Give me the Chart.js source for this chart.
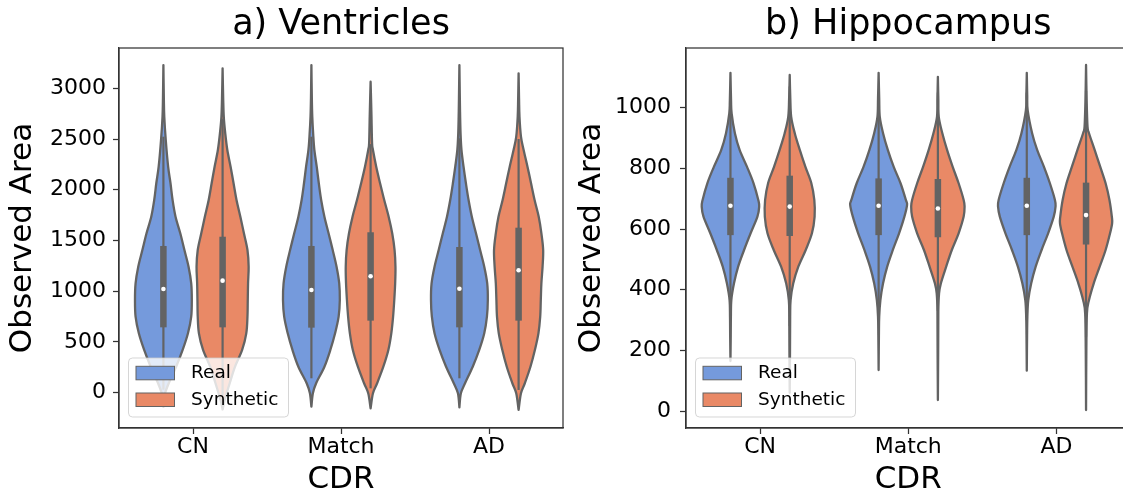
<!DOCTYPE html>
<html><head><meta charset="utf-8">
<script src="https://cdn.jsdelivr.net/npm/chart.js@4.4.0/dist/chart.umd.min.js"></script>
<style>
html,body{margin:0;padding:0;background:#fff;overflow:hidden;width:1123px;height:493px;}
#wrap{position:relative;width:1123px;height:493px;overflow:hidden;background:#fff;}
.box{position:absolute;top:0;height:493px;}
#b1{left:0;width:575px;}
#b2{left:575px;width:565px;}
</style></head><body>
<div id="wrap"><div class="box" id="b1"><canvas id="c1" width="575" height="493"></canvas></div><div class="box" id="b2"><canvas id="c2" width="565" height="493"></canvas></div></div>
<script>
// ---------------- data ----------------
const categories = ['CN', 'Match', 'AD'];
const series = ['Real', 'Synthetic'];
const seriesColors = ['#759adc', '#e98966'];

// a) Ventricles
const ventTicks = [0, 500, 1000, 1500, 2000, 2500, 3000];
const ventMedianReal = [1022, 1012, 1025];
const ventMedianSynth = [1104, 1147, 1206];
const ventQ1Real = [644, 641, 644];
const ventQ3Real = [1446, 1446, 1436];
const ventQ1Synth = [644, 710, 710];
const ventQ3Synth = [1537, 1581, 1626];
const ventWhiskLoReal = [30, 142, 142];
const ventWhiskHiReal = [2523, 2523, 2507];
const ventWhiskLoSynth = [-30, 43, 27];
const ventWhiskHiSynth = [2700, 2450, 2500];
// density outlines: [value, relative half-width %]
const ventShapeRealCN = [[-140,0],[-40,3],[0,6],[93,18],[256,43],[421,65],[585,83],[749,94],[914,96],[1078,94],[1242,85],[1406,71],[1571,57],[1734,41],[1899,31],[2064,24],[2227,16],[2490,8],[2720,3],[2900,1.5],[3229,0]];
const ventShapeSynthCN = [[-165,0],[-72,7],[93,24],[256,42],[421,66],[585,80],[749,84],[914,85],[1078,86],[1242,88],[1406,84],[1571,72],[1734,60],[1899,47],[2064,37],[2227,27],[2392,16],[2556,9],[2720,4],[2900,2],[3197,0]];
const ventShapeRealMatch = [[-138,0],[-6,5],[93,16],[256,44],[421,64],[585,80],[749,92],[914,96],[1078,94],[1242,85],[1406,72],[1571,58],[1734,44],[1899,33],[2064,25],[2227,18],[2392,10],[2550,6],[2720,3],[2900,1.5],[3229,0]];
const ventShapeSynthMatch = [[-154,0],[-6,8],[93,22],[256,43],[421,60],[585,70],[749,76],[914,80],[1078,83],[1242,84],[1406,81],[1571,73],[1734,61],[1899,46],[2064,32],[2227,19],[2392,8],[2458,5],[2720,3],[2900,1.5],[3065,0]];
const ventShapeRealAD = [[-144,0],[-6,5],[93,19],[256,45],[421,67],[585,84],[749,93],[914,96],[1078,94],[1242,84],[1406,70],[1571,56],[1734,42],[1899,31],[2064,22],[2227,14],[2392,7],[2550,4],[2720,2.5],[2900,1.5],[3229,0]];
const ventShapeSynthAD = [[-170,0],[-6,8],[93,21],[256,40],[421,55],[585,67],[749,73],[914,75],[1078,77],[1242,81],[1406,83],[1571,77],[1734,68],[1899,54],[2064,42],[2227,30],[2392,17],[2524,8],[2720,3],[2900,1.5],[3147,0]];

// b) Hippocampus
const hippTicks = [0, 200, 400, 600, 800, 1000];
const hippMedianReal = [677, 677, 677];
const hippMedianSynth = [674, 668, 646];
const hippQ1Real = [580, 580, 580];
const hippQ3Real = [769, 767, 769];
const hippQ1Synth = [577, 573, 549];
const hippQ3Synth = [776, 765, 753];
const hippWhiskLoReal = [300, 300, 300];
const hippWhiskHiReal = [1050, 1050, 1050];
const hippWhiskLoSynth = [280, 330, 245];
const hippWhiskHiSynth = [1070, 1050, 1055];
const hippShapeRealCN = [[165,0],[250,1],[311,1.5],[366,3],[421,12],[476,26],[531,46],[586,68],[641,91],[674,97],[696,94],[751,78],[805,56],[861,31],[916,15],[981,4],[1025,2],[1115,0]];
const hippShapeSynthCN = [[60,0],[200,1],[311,1.5],[366,3],[421,12],[476,29],[531,54],[586,75],[641,84],[696,83],[751,73],[805,53],[861,34],[916,17],[970,5],[1030,2],[1108,0]];
const hippShapeRealMatch = [[135,0],[250,1],[311,2],[366,6],[421,15],[476,29],[531,48],[586,69],[641,87],[680,96],[696,92],[751,74],[805,51],[861,31],[916,15],[970,4],[1030,2],[1115,0]];
const hippShapeSynthMatch = [[36,0],[200,1],[330,1.5],[388,4],[421,10],[476,28],[531,47],[586,70],[641,87],[674,90],[696,87],[751,70],[805,50],[861,31],[916,15],[970,3],[1030,1.5],[1102,0]];
const hippShapeRealAD = [[133,0],[250,1],[311,2],[366,5],[421,15],[476,30],[531,50],[586,72],[641,91],[674,97],[696,95],[751,78],[805,58],[861,35],[916,18],[992,3],[1040,1.5],[1115,0]];
const hippShapeSynthAD = [[3,0],[200,1],[322,3],[366,10],[421,26],[476,46],[531,66],[586,81],[619,88],[641,87],[696,79],[751,66],[805,48],[861,29],[916,10],[938,5],[1025,2],[1141,0]];

// ---------------- drawing ----------------
const FONT = '"DejaVu Sans", "Liberation Sans", sans-serif';
const GRAY = '#636363';
const SPINE = '#333333';
const DODGE = 0.2;      // hue offset in category units
const HALF_MAX = 0.2;   // max half-width in category units

function curveThrough(ctx, pts, first) {
  if (first) ctx.moveTo(pts[0][0], pts[0][1]); else ctx.lineTo(pts[0][0], pts[0][1]);
  for (let i = 0; i < pts.length - 1; i++) {
    const p0 = pts[Math.max(i - 1, 0)], p1 = pts[i], p2 = pts[i + 1], p3 = pts[Math.min(i + 2, pts.length - 1)];
    ctx.bezierCurveTo(p1[0] + (p2[0] - p0[0]) / 6, p1[1] + (p2[1] - p0[1]) / 6,
                      p2[0] - (p3[0] - p1[0]) / 6, p2[1] - (p3[1] - p1[1]) / 6, p2[0], p2[1]);
  }
}

function makeViolinPlugin(panel) {
  return {
    id: 'violins',
    beforeDatasetsDraw(chart) {
      const {ctx, scales: {x, y}} = chart;
      ctx.save();
      categories.forEach((cat, ci) => {
        series.forEach((s, si) => {
          const center = ci + (si === 0 ? -DODGE : DODGE);
          const shape = panel.shapes[si][ci];
          const right = shape.map(([v, w]) => [x.getPixelForValue(center + HALF_MAX * w / 100), y.getPixelForValue(v)]);
          const left = shape.slice().reverse().map(([v, w]) => [x.getPixelForValue(center - HALF_MAX * w / 100), y.getPixelForValue(v)]);
          ctx.beginPath();
          curveThrough(ctx, right, true);
          curveThrough(ctx, left, false);
          ctx.closePath();
          ctx.fillStyle = seriesColors[si];
          ctx.fill();
          ctx.lineWidth = 2.3;
          ctx.strokeStyle = GRAY;
          ctx.lineJoin = 'round';
          ctx.stroke();
          // inner box
          const cx = x.getPixelForValue(center);
          ctx.lineCap = 'butt';
          ctx.beginPath();
          ctx.moveTo(cx, y.getPixelForValue(panel.whiskLo[si][ci]));
          ctx.lineTo(cx, y.getPixelForValue(panel.whiskHi[si][ci]));
          ctx.lineWidth = 2.2;
          ctx.stroke();
          ctx.beginPath();
          ctx.moveTo(cx, y.getPixelForValue(panel.q1[si][ci]));
          ctx.lineTo(cx, y.getPixelForValue(panel.q3[si][ci]));
          ctx.lineWidth = 6.5;
          ctx.stroke();
        });
      });
      ctx.restore();
    },
    afterDraw(chart) {
      const {ctx, chartArea: a} = chart;
      ctx.save();
      ctx.strokeStyle = SPINE;
      ctx.lineWidth = 1.25;
      ctx.strokeRect(a.left, a.top, a.right - a.left, a.bottom - a.top);
      // legend
      const bw = 160, bh = 59;
      const bx = a.left + 9.5, by = a.bottom - 11 - bh;
      ctx.beginPath();
      ctx.roundRect(bx, by, bw, bh, 4);
      ctx.fillStyle = 'rgba(255,255,255,0.8)';
      ctx.fill();
      ctx.strokeStyle = 'rgba(204,204,204,0.8)';
      ctx.lineWidth = 1;
      ctx.stroke();
      series.forEach((s, i) => {
        const py = by + 8.3 + i * 26.7;
        ctx.fillStyle = seriesColors[i];
        ctx.fillRect(bx + 7.5, py, 38.5, 13.5);
        ctx.strokeStyle = GRAY;
        ctx.lineWidth = 1;
        ctx.strokeRect(bx + 7.5, py, 38.5, 13.5);
        ctx.fillStyle = '#000';
        ctx.font = '18.5px ' + FONT;
        ctx.textBaseline = 'middle';
        ctx.textAlign = 'left';
        ctx.fillText(s, bx + 7.5 + 38.5 + 16.5, py + 7);
      });
      ctx.restore();
    }
  };
}

function makeChart(id, panel) {
  const medians = [panel.median[0], panel.median[1]];
  return new Chart(document.getElementById(id), {
    type: 'scatter',
    data: {
      datasets: series.map((s, si) => ({
        label: s,
        data: medians[si].map((m, ci) => ({x: ci + (si === 0 ? -DODGE : DODGE), y: m})),
        pointRadius: 2.3,
        pointBackgroundColor: '#ffffff',
        pointBorderWidth: 0,
        pointHoverRadius: 2.3,
        showLine: false
      }))
    },
    options: {
      responsive: false,
      animation: false,
      devicePixelRatio: 1,
      layout: {padding: {left: 0, right: panel.padRight, top: 0, bottom: 0}},
      plugins: {
        legend: {display: false},
        tooltip: {enabled: false},
        title: {
          display: true, text: panel.title, fullSize: false, color: '#000',
          font: {family: FONT, size: 35, weight: 'normal'},
          padding: {top: 4, bottom: 2}
        }
      },
      scales: {
        x: {
          type: 'linear', min: -0.5, max: 2.5,
          afterBuildTicks: s => { s.ticks = categories.map((c, i) => ({value: i})); },
          afterFit: s => { s.height = 65; },
          ticks: {callback: v => categories[v], font: {family: FONT, size: 22}, color: '#000', padding: 0.3, maxRotation: 0, autoSkip: false},
          grid: {display: true, drawOnChartArea: false, drawTicks: true, tickLength: 6, tickWidth: 1.25, tickColor: SPINE},
          border: {display: true, color: SPINE, width: 1.25},
          title: {display: true, text: 'CDR', color: '#000', font: {family: FONT, size: 31, lineHeight: 1}, padding: {top: 0, bottom: -2.5}}
        },
        y: {
          type: 'linear', min: panel.yMin, max: panel.yMax,
          afterBuildTicks: s => { s.ticks = panel.ticks.map(v => ({value: v})); },
          afterFit: s => { s.width = panel.yWidth; },
          ticks: {callback: v => String(v), font: {family: FONT, size: 22}, color: '#000', padding: panel.tickPad, autoSkip: false},
          grid: {display: true, drawOnChartArea: false, drawTicks: true, tickLength: 6, tickWidth: 1.25, tickColor: SPINE},
          border: {display: true, color: SPINE, width: 1.25},
          title: {display: true, text: 'Observed Area', color: '#000', font: {family: FONT, size: 31, lineHeight: 1}, padding: {top: panel.titlePad, bottom: 0}}
        }
      }
    },
    plugins: [makeViolinPlugin(panel)]
  });
}

makeChart('c1', {
  title: 'a) Ventricles', yMin: -348, yMax: 3397, ticks: ventTicks, yWidth: 119, padRight: 12, tickPad: 7, titlePad: 7.8,
  median: [ventMedianReal, ventMedianSynth],
  q1: [ventQ1Real, ventQ1Synth], q3: [ventQ3Real, ventQ3Synth],
  whiskLo: [ventWhiskLoReal, ventWhiskLoSynth], whiskHi: [ventWhiskHiReal, ventWhiskHiSynth],
  shapes: [[ventShapeRealCN, ventShapeRealMatch, ventShapeRealAD], [ventShapeSynthCN, ventShapeSynthMatch, ventShapeSynthAD]]
});
makeChart('c2', {
  title: 'b) Hippocampus', yMin: -56, yMax: 1197, ticks: hippTicks, yWidth: 111, padRight: 9.5, tickPad: 9, titlePad: 1,
  median: [hippMedianReal, hippMedianSynth],
  q1: [hippQ1Real, hippQ1Synth], q3: [hippQ3Real, hippQ3Synth],
  whiskLo: [hippWhiskLoReal, hippWhiskLoSynth], whiskHi: [hippWhiskHiReal, hippWhiskHiSynth],
  shapes: [[hippShapeRealCN, hippShapeRealMatch, hippShapeRealAD], [hippShapeSynthCN, hippShapeSynthMatch, hippShapeSynthAD]]
});
</script>
</body></html>
